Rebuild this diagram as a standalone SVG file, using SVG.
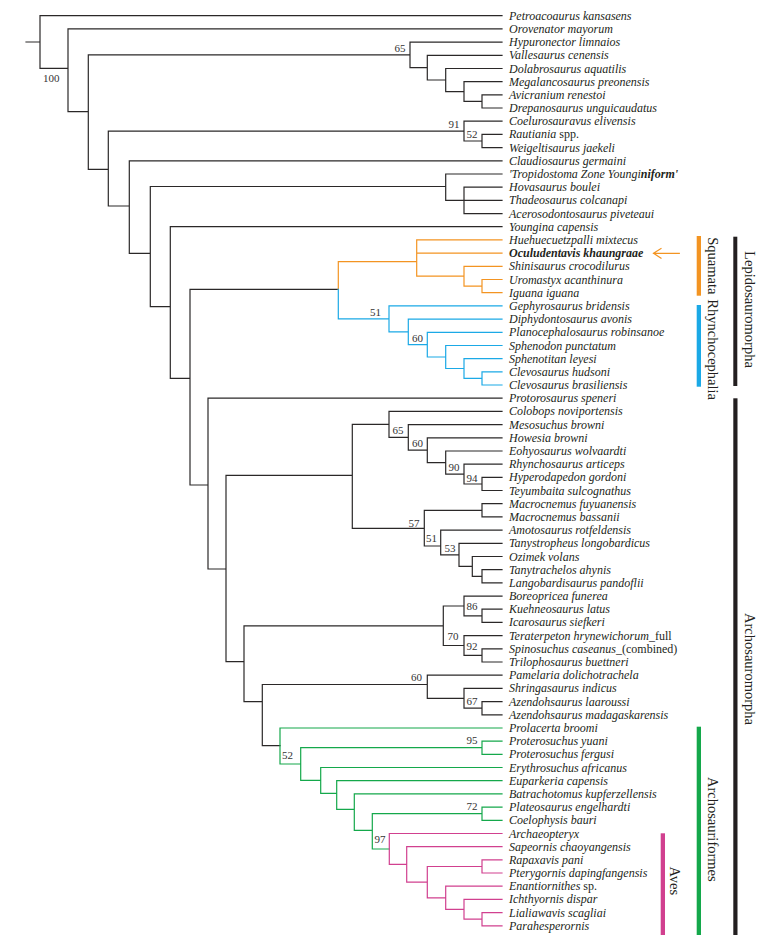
<svg xmlns="http://www.w3.org/2000/svg" width="783" height="940" viewBox="0 0 783 940">
<style>
.br{fill:none;stroke-width:1.2;stroke-linecap:square;stroke-linejoin:miter}
.k{stroke:#2b2828}.o{stroke:#f39422}.b{stroke:#1ba9e6}.g{stroke:#14a84b}.p{stroke:#d1408f}
.tx{font-family:"Liberation Serif","Times New Roman",serif;font-style:italic;font-size:12px;fill:#231f20}
.up{font-style:normal}
.bd{font-weight:bold}
.sv{font-family:"Liberation Serif","Times New Roman",serif;font-size:11px;fill:#333;text-anchor:end}
.cl{font-family:"Liberation Serif","Times New Roman",serif;font-size:14.5px;fill:#231f20;text-anchor:middle}
</style>
<rect width="783" height="940" fill="#fff"/>
<g id="connectors">
<path class="br k" d="M26,42H40M40,15.7V68.3M40,15.7H502M40,68.3H68M68,28.9V111.7M68,28.9H502
M68,111.7H88.3M88.3,54.9V169.3M88.3,54.9H410M410,42.1V67.7M410,42.1H502
M410,67.7H427.3M427.3,55.3V80M427.3,55.3H502M427.3,80H445.7M445.7,68.5V91.6M445.7,68.5H502
M445.7,91.6H464M464,81.7V101.4M464,81.7H502M464,101.4H482M482,94.8V108M482,94.8H502M482,108H502
M88.3,169.3H108.3M108.3,131.1V206M108.3,131.1H464M464,121.2V141M464,121.2H502M464,141H482M482,134.4V147.6M482,134.4H502M482,147.6H502
M108.3,206H129.3M129.3,160.8V253.3M129.3,160.8H502M129.3,253.3H150.3M150.3,186.5V306.7
M150.3,186.5H445.7M445.7,174V200.4M445.7,174H502M445.7,200.4H464M464,187.2V213.6M464,187.2H502M464,200.4H502M464,213.6H502
M150.3,306.7H170.3M170.3,226.7V378.3M170.3,226.7H502M170.3,378.3H190M190,289.3V485M190,289.3H338.3
M190,485H208M208,398.2V569M208,398.2H502M208,569H226M226,475.3V661.7
M226,475.3H352.3M352.3,424.4V528.3M352.3,424.4H389M389,411.4V437.4M389,411.4H502
M389,437.4H408.3M408.3,424.6V450.2M408.3,424.6H502M408.3,450.2H427.3M427.3,437.8V462.6M427.3,437.8H502
M427.3,462.6H445.7M445.7,451V474.1M445.7,451H502M445.7,474.1H464M464,464.2V484M464,464.2H502
M464,484H482M482,477.4V490.5M482,477.4H502M482,490.5H502
M352.3,528.3H424.3M424.3,510.3V546M424.3,510.3H482M482,503.7V516.9M482,503.7H502M482,516.9H502
M424.3,546H440.7M440.7,530.1V554.9M440.7,530.1H502M440.7,554.9H459M459,543.3V566.4M459,543.3H502
M459,566.4H472.3M472.3,556.5V576.3M472.3,556.5H502M472.3,576.3H482M482,569.7V582.9M482,569.7H502M482,582.9H502
M226,661.7H244M244,625.8V701.7M244,625.8H443.3M443.3,606V645.5
M443.3,606H464M464,596.1V615.8M464,596.1H502M464,615.8H482M482,609.2V622.4M482,609.2H502M482,622.4H502
M443.3,645.5H464M464,635.6V655.4M464,635.6H502M464,655.4H482M482,648.8V662M482,648.8H502M482,662H502
M244,701.7H262.3M262.3,684.5V745.7M262.3,684.5H427.3M427.3,675.2V698.3M427.3,675.2H502
M427.3,698.3H464M464,688.4V708.2M464,688.4H502M464,708.2H482M482,701.6V714.8M482,701.6H502M482,714.8H502
M262.3,745.7H280"/>
<path class="br o" d="M338.3,289.3V261.7H416.7M416.7,239.9V276.2M416.7,239.9H502M416.7,253.1H502
M416.7,276.2H464M464,266.3V286.1M464,266.3H502M464,286.1H482M482,279.5V292.7M482,279.5H502M482,292.7H502"/>
<path class="br b" d="M338.3,289.3V318.9H389M389,305.9V331.9M389,305.9H502M389,331.9H408.3M408.3,319.1V344.7M408.3,319.1H502
M408.3,344.7H427.3M427.3,332.3V357M427.3,332.3H502M427.3,357H445.7M445.7,345.5V368.5M445.7,345.5H502
M445.7,368.5H464M464,358.6V378.4M464,358.6H502M464,378.4H482M482,371.8V385M482,371.8H502M482,385H502"/>
<path class="br g" d="M280,728V764M280,728H502M280,764H300.7M300.7,747.7V780.4M300.7,747.7H482M482,741.1V754.3M482,741.1H502M482,754.3H502
M300.7,780.4H320.7M320.7,767.5V793.3M320.7,767.5H502M320.7,793.3H336.7M336.7,780.7V809.3M336.7,780.7H502
M336.7,809.3H354.3M354.3,793.9V830.3M354.3,793.9H502M354.3,830.3H372.3M372.3,813.7V849
M372.3,813.7H482M482,807.1V820.3M482,807.1H502M482,820.3H502M372.3,849H389.3"/>
<path class="br p" d="M389.3,833.5V864.4M389.3,833.5H502M389.3,864.4H406.7M406.7,846.7V882.1M406.7,846.7H502
M406.7,882.1H427.3M427.3,866.5V897.8M427.3,866.5H482M482,859.9V873M482,859.9H502M482,873H502
M427.3,897.8H445.7M445.7,886.2V909.3M445.7,886.2H502M445.7,909.3H464M464,899.4V919.2M464,899.4H502
M464,919.2H482M482,912.6V925.8M482,912.6H502M482,925.8H502"/>
<path class="br o" d="M679.3,253.3H653.5M661,248.5L653.5,253.3L661,258.1"/>
</g>
<g id="support">
<text class="sv" x="59.5" y="82">100</text>
<text class="sv" x="405.5" y="51.5">65</text>
<text class="sv" x="459.5" y="127.5">91</text>
<text class="sv" x="477.5" y="138">52</text>
<text class="sv" x="381" y="316">51</text>
<text class="sv" x="423" y="342">60</text>
<text class="sv" x="403.5" y="434">65</text>
<text class="sv" x="423" y="447">60</text>
<text class="sv" x="459.5" y="471">90</text>
<text class="sv" x="477.5" y="481.5">94</text>
<text class="sv" x="419.5" y="526.5">57</text>
<text class="sv" x="437" y="542">51</text>
<text class="sv" x="455.5" y="552">53</text>
<text class="sv" x="477.5" y="610">86</text>
<text class="sv" x="458.5" y="640">70</text>
<text class="sv" x="477.5" y="650">92</text>
<text class="sv" x="422" y="680.5">60</text>
<text class="sv" x="477.5" y="705">67</text>
<text class="sv" x="477.5" y="744">95</text>
<text class="sv" x="293" y="759">52</text>
<text class="sv" x="477.5" y="810">72</text>
<text class="sv" x="385.5" y="843">97</text>
</g>
<g id="taxa">
<g id="t00"><text class="tx" x="509" y="19.7">Petroacoaurus kansasens</text></g>
<g id="t01"><text class="tx" x="509" y="32.9">Orovenator mayorum</text></g>
<g id="t02"><text class="tx" x="509" y="46.1">Hypuronector limnaios</text></g>
<g id="t03"><text class="tx" x="509" y="59.3">Vallesaurus cenensis</text></g>
<g id="t04"><text class="tx" x="509" y="72.5">Dolabrosaurus aquatilis</text></g>
<g id="t05"><text class="tx" x="509" y="85.7">Megalancosaurus preonensis</text></g>
<g id="t06"><text class="tx" x="509" y="98.8">Avicranium renestoi</text></g>
<g id="t07"><text class="tx" x="509" y="112">Drepanosaurus unguicaudatus</text></g>
<g id="t08"><text class="tx" x="509" y="125.2">Coelurosauravus elivensis</text></g>
<g id="t09"><text class="tx" x="509" y="138.4">Rautiania <tspan class="up">spp.</tspan></text></g>
<g id="t10"><text class="tx" x="509" y="151.6">Weigeltisaurus jaekeli</text></g>
<g id="t11"><text class="tx" x="509" y="164.8">Claudiosaurus germaini</text></g>
<g id="t12"><text class="tx" x="509" y="178">'Tropidostoma Zone Youngi<tspan class="bd">niform'</tspan></text></g>
<g id="t13"><text class="tx" x="509" y="191.2">Hovasaurus boulei</text></g>
<g id="t14"><text class="tx" x="509" y="204.4">Thadeosaurus colcanapi</text></g>
<g id="t15"><text class="tx" x="509" y="217.6">Acerosodontosaurus piveteaui</text></g>
<g id="t16"><text class="tx" x="509" y="230.7">Youngina capensis</text></g>
<g id="t17"><text class="tx" x="509" y="243.9">Huehuecuetzpalli mixtecus</text></g>
<g id="t18"><text class="tx bd" x="509" y="257.1">Oculudentavis khaungraae</text></g>
<g id="t19"><text class="tx" x="509" y="270.3">Shinisaurus crocodilurus</text></g>
<g id="t20"><text class="tx" x="509" y="283.5">Uromastyx acanthinura</text></g>
<g id="t21"><text class="tx" x="509" y="296.7">Iguana iguana</text></g>
<g id="t22"><text class="tx" x="509" y="309.9">Gephyrosaurus bridensis</text></g>
<g id="t23"><text class="tx" x="509" y="323.1">Diphydontosaurus avonis</text></g>
<g id="t24"><text class="tx" x="509" y="336.3">Planocephalosaurus robinsanoe</text></g>
<g id="t25"><text class="tx" x="509" y="349.5">Sphenodon punctatum</text></g>
<g id="t26"><text class="tx" x="509" y="362.6">Sphenotitan leyesi</text></g>
<g id="t27"><text class="tx" x="509" y="375.8">Clevosaurus hudsoni</text></g>
<g id="t28"><text class="tx" x="509" y="389">Clevosaurus brasiliensis</text></g>
<g id="t29"><text class="tx" x="509" y="402.2">Protorosaurus speneri</text></g>
<g id="t30"><text class="tx" x="509" y="415.4">Colobops noviportensis</text></g>
<g id="t31"><text class="tx" x="509" y="428.6">Mesosuchus browni</text></g>
<g id="t32"><text class="tx" x="509" y="441.8">Howesia browni</text></g>
<g id="t33"><text class="tx" x="509" y="455">Eohyosaurus wolvaardti</text></g>
<g id="t34"><text class="tx" x="509" y="468.2">Rhynchosaurus articeps</text></g>
<g id="t35"><text class="tx" x="509" y="481.4">Hyperodapedon gordoni</text></g>
<g id="t36"><text class="tx" x="509" y="494.5">Teyumbaita sulcognathus</text></g>
<g id="t37"><text class="tx" x="509" y="507.7">Macrocnemus fuyuanensis</text></g>
<g id="t38"><text class="tx" x="509" y="520.9">Macrocnemus bassanii</text></g>
<g id="t39"><text class="tx" x="509" y="534.1">Amotosaurus rotfeldensis</text></g>
<g id="t40"><text class="tx" x="509" y="547.3">Tanystropheus longobardicus</text></g>
<g id="t41"><text class="tx" x="509" y="560.5">Ozimek volans</text></g>
<g id="t42"><text class="tx" x="509" y="573.7">Tanytrachelos ahynis</text></g>
<g id="t43"><text class="tx" x="509" y="586.9">Langobardisaurus pandoflii</text></g>
<g id="t44"><text class="tx" x="509" y="600.1">Boreopricea funerea</text></g>
<g id="t45"><text class="tx" x="509" y="613.2">Kuehneosaurus latus</text></g>
<g id="t46"><text class="tx" x="509" y="626.4">Icarosaurus siefkeri</text></g>
<g id="t47"><text class="tx" x="509" y="639.6">Teraterpeton hrynewichorum_<tspan class="up">full</tspan></text></g>
<g id="t48"><text class="tx" x="509" y="652.8">Spinosuchus caseanus_<tspan class="up">(combined)</tspan></text></g>
<g id="t49"><text class="tx" x="509" y="666">Trilophosaurus buettneri</text></g>
<g id="t50"><text class="tx" x="509" y="679.2">Pamelaria dolichotrachela</text></g>
<g id="t51"><text class="tx" x="509" y="692.4">Shringasaurus indicus</text></g>
<g id="t52"><text class="tx" x="509" y="705.6">Azendohsaurus laaroussi</text></g>
<g id="t53"><text class="tx" x="509" y="718.8">Azendohsaurus madagaskarensis</text></g>
<g id="t54"><text class="tx" x="509" y="732">Prolacerta broomi</text></g>
<g id="t55"><text class="tx" x="509" y="745.1">Proterosuchus yuani</text></g>
<g id="t56"><text class="tx" x="509" y="758.3">Proterosuchus fergusi</text></g>
<g id="t57"><text class="tx" x="509" y="771.5">Erythrosuchus africanus</text></g>
<g id="t58"><text class="tx" x="509" y="784.7">Euparkeria capensis</text></g>
<g id="t59"><text class="tx" x="509" y="797.9">Batrachotomus kupferzellensis</text></g>
<g id="t60"><text class="tx" x="509" y="811.1">Plateosaurus engelhardti</text></g>
<g id="t61"><text class="tx" x="509" y="824.3">Coelophysis bauri</text></g>
<g id="t62"><text class="tx" x="509" y="837.5">Archaeopteryx</text></g>
<g id="t63"><text class="tx" x="509" y="850.7">Sapeornis chaoyangensis</text></g>
<g id="t64"><text class="tx" x="509" y="863.9">Rapaxavis pani</text></g>
<g id="t65"><text class="tx" x="509" y="877">Pterygornis dapingfangensis</text></g>
<g id="t66"><text class="tx" x="509" y="890.2">Enantiornithes <tspan class="up">sp.</tspan></text></g>
<g id="t67"><text class="tx" x="509" y="903.4">Ichthyornis dispar</text></g>
<g id="t68"><text class="tx" x="509" y="916.6">Lialiawavis scagliai</text></g>
<g id="t69"><text class="tx" x="509" y="929.8">Parahesperornis</text></g>
</g>
<g id="clades">
<g id="squamata"><rect x="696.7" y="236" width="4.3" height="59.7" fill="#f39422"/><text class="cl" transform="translate(708,265.8) rotate(90)">Squamata</text></g>
<g id="rhynchocephalia"><rect x="696.7" y="305" width="4.3" height="81.7" fill="#1ba9e6"/><text class="cl" transform="translate(708,349.7) rotate(90)">Rhynchocephalia</text></g>
<g id="lepidosauromorpha"><rect x="733.3" y="236.7" width="4" height="149.3" fill="#231f20"/><text class="cl" transform="translate(744.5,309.5) rotate(90)">Lepidosauromorpha</text></g>
<g id="archosauromorpha"><rect x="733.3" y="398.3" width="4.2" height="536.7" fill="#231f20"/><text class="cl" transform="translate(744.5,669) rotate(90)">Archosauromorpha</text></g>
<g id="archosauriformes"><rect x="696.7" y="726.7" width="4.3" height="208.3" fill="#14a84b"/><text class="cl" transform="translate(708,829.3) rotate(90)">Archosauriformes</text></g>
<g id="aves"><rect x="660.7" y="833.3" width="4.3" height="101.7" fill="#d1408f"/><text class="cl" transform="translate(669.5,880.8) rotate(90)">Aves</text></g>
</g>
</svg>
